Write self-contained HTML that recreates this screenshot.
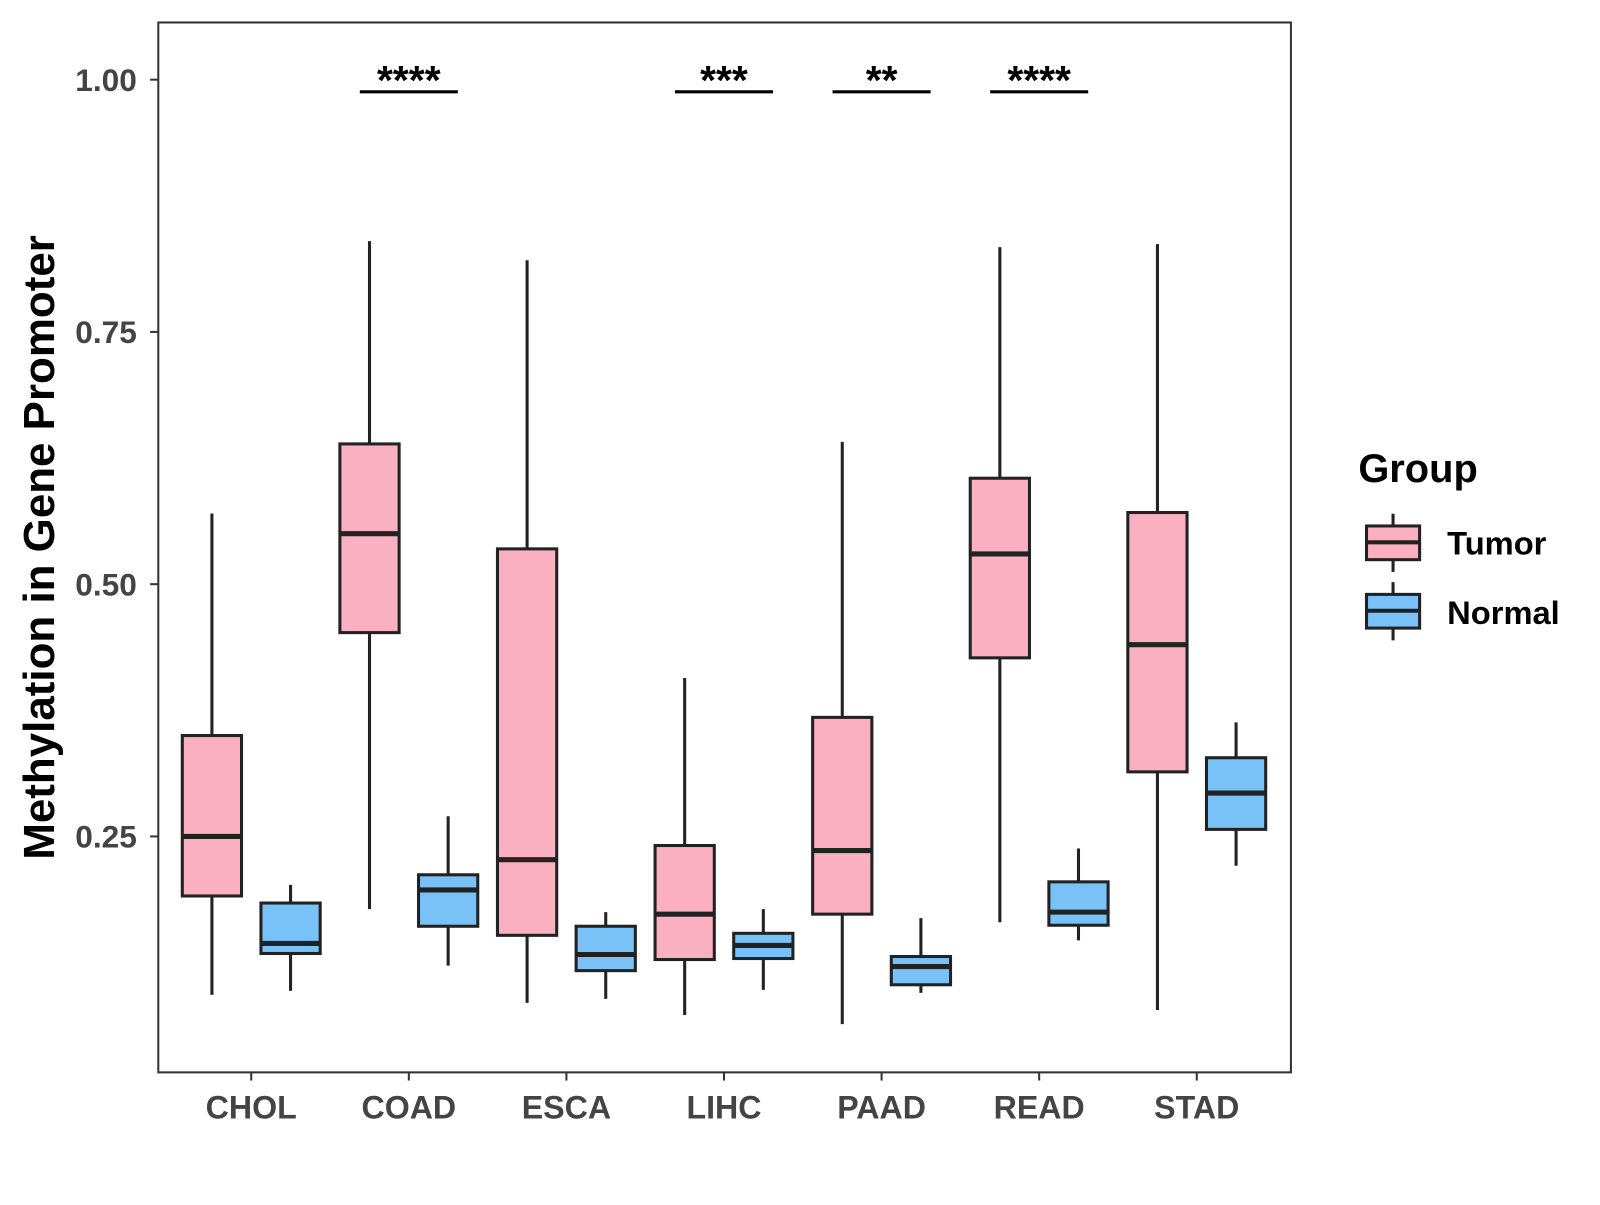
<!DOCTYPE html>
<html><head><meta charset="utf-8"><style>
body{margin:0;background:#fff;}
svg text{font-family:"Liberation Sans",Arial,sans-serif;font-weight:bold;}
</style></head><body>
<svg id="chart" width="1600" height="1200" viewBox="0 0 1600 1200">
<g transform="scale(1.0213)">
<rect x="155" y="22" width="1109" height="1028" fill="#fff" stroke="#333" stroke-width="2"/>
<g id="marks"></g>
<text transform="translate(53,536) rotate(-90)" text-anchor="middle" font-size="43" fill="#000">Methylation in Gene Promoter</text>
<g>
<text x="1330" y="472" font-size="39" fill="#000">Group</text>
<g>
<line x1="1364" y1="503" x2="1364" y2="560" stroke="#222" stroke-width="3"/>
<rect x="1338" y="515" width="52" height="33" fill="#FBB0C2" stroke="#222" stroke-width="3"/>
<line x1="1338" y1="531" x2="1390" y2="531" stroke="#222" stroke-width="4"/>
<text x="1417" y="543" font-size="32" fill="#000">Tumor</text></g>
<g>
<line x1="1364" y1="570" x2="1364" y2="627" stroke="#222" stroke-width="3"/>
<rect x="1338" y="582" width="52" height="33" fill="#78C2F8" stroke="#222" stroke-width="3"/>
<line x1="1338" y1="598" x2="1390" y2="598" stroke="#222" stroke-width="4"/>
<text x="1417" y="611" font-size="32" fill="#000">Normal</text></g>
</g>
</g>
</svg>
<script>
const categories=["CHOL","COAD","ESCA","LIHC","PAAD","READ","STAD"];
const tumorStats=[[0.093,0.191,0.250,0.350,0.570],[0.178,0.452,0.550,0.639,0.840],[0.085,0.152,0.227,0.535,0.821],[0.073,0.128,0.173,0.241,0.407],[0.064,0.173,0.236,0.368,0.641],[0.165,0.427,0.530,0.605,0.834],[0.078,0.314,0.440,0.571,0.837]];
const normalStats=[[0.097,0.134,0.144,0.184,0.202],[0.122,0.161,0.197,0.212,0.270],[0.089,0.117,0.133,0.161,0.175],[0.098,0.129,0.142,0.154,0.178],[0.095,0.103,0.121,0.131,0.169],[0.147,0.162,0.175,0.205,0.238],[0.221,0.257,0.293,0.328,0.363]];
const yTicks=[0.25,0.50,0.75,1.00];
const yTickLabels=["0.25","0.50","0.75","1.00"];
const sigCategories=["COAD","LIHC","PAAD","READ"];
const sigLabels=["****","***","**","****"];
const sigLevel=0.989;

const NS="http://www.w3.org/2000/svg";
const g=document.getElementById('marks');
function y(v){return 78+(1-v)*988;}
function x(i){return 246+i*154.3;}
function mk(t,a,p){const e=document.createElementNS(NS,t);for(const k in a)e.setAttribute(k,a[k]);(p||g).appendChild(e);return e;}
yTicks.forEach((v,i)=>{
  const l=mk('line',{x1:147,x2:155,y1:y(v),y2:y(v),stroke:'#333','stroke-width':2});
  
  
  const t=mk('text',{x:134,y:y(v)+11,'text-anchor':'end','font-size':31,fill:'#444'});
  t.textContent=yTickLabels[i];
  
  
});
categories.forEach((c,i)=>{
  const l=mk('line',{x1:x(i),x2:x(i),y1:1050,y2:1058,stroke:'#333','stroke-width':2});
  
  
  const t=mk('text',{x:x(i),y:1095,'text-anchor':'middle','font-size':31.5,fill:'#444'});
  t.textContent=c;
  
  
  [[tumorStats[i],-38.5,'#FBB0C2','tumor'],[normalStats[i],38.5,'#78C2F8','normal']].forEach(([s,off,col,nm])=>{
    const cx=x(i)+off;
    const bg=mk('g',{});
    
    
    mk('line',{x1:cx,x2:cx,y1:y(s[4]),y2:y(s[0]),stroke:'#222','stroke-width':3},bg);
    mk('rect',{x:cx-29,y:y(s[3]),width:58,height:y(s[1])-y(s[3]),fill:col,stroke:'#222','stroke-width':3},bg);
    mk('line',{x1:cx-29,x2:cx+29,y1:y(s[2]),y2:y(s[2]),stroke:'#222','stroke-width':5},bg);
  });
});
sigCategories.forEach((c,k)=>{
  const i=categories.indexOf(c);
  const l=mk('line',{x1:x(i)-48,x2:x(i)+48,y1:y(sigLevel)+1,y2:y(sigLevel)+1,stroke:'#000','stroke-width':3});
  
  
  const t=mk('text',{x:x(i),y:y(sigLevel)+3,'text-anchor':'middle','font-size':40,fill:'#000'});
  t.textContent=sigLabels[k];
  
  
});
</script>
</body></html>
